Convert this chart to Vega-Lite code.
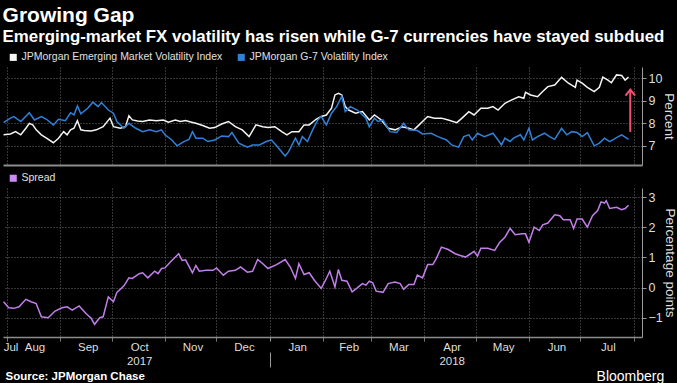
{
  "$schema": "https://vega.github.io/schema/vega-lite/v6.json",
  "background": "#000000",
  "padding": {"left": 0, "top": 5, "right": 0, "bottom": 0},
  "title": {"text": "Bloomberg", "orient": "bottom", "anchor": "end", "color": "#ffffff", "fontSize": 14, "fontWeight": "normal", "font": "Liberation Sans", "offset": -12, "dx": -12},
  "datasets": {
    "vol": [
      {"date":"2017-07-30","series":"EM","value":7.49},{"date":"2017-08-03","series":"EM","value":7.53},{"date":"2017-08-06","series":"EM","value":7.63},{"date":"2017-08-09","series":"EM","value":7.49},{"date":"2017-08-12","series":"EM","value":7.78},{"date":"2017-08-14","series":"EM","value":8.0},{"date":"2017-08-16","series":"EM","value":7.93},{"date":"2017-08-18","series":"EM","value":7.71},{"date":"2017-08-21","series":"EM","value":7.49},{"date":"2017-08-24","series":"EM","value":7.34},{"date":"2017-08-28","series":"EM","value":7.14},{"date":"2017-08-31","series":"EM","value":7.34},{"date":"2017-09-03","series":"EM","value":7.63},{"date":"2017-09-05","series":"EM","value":7.49},{"date":"2017-09-07","series":"EM","value":7.71},{"date":"2017-09-09","series":"EM","value":7.78},{"date":"2017-09-11","series":"EM","value":8.12},{"date":"2017-09-13","series":"EM","value":7.71},{"date":"2017-09-15","series":"EM","value":7.68},{"date":"2017-09-19","series":"EM","value":7.66},{"date":"2017-09-22","series":"EM","value":7.71},{"date":"2017-09-26","series":"EM","value":7.85},{"date":"2017-09-30","series":"EM","value":8.23},{"date":"2017-10-02","series":"EM","value":7.85},{"date":"2017-10-06","series":"EM","value":7.78},{"date":"2017-10-09","series":"EM","value":7.85},{"date":"2017-10-11","series":"EM","value":8.33},{"date":"2017-10-13","series":"EM","value":8.15},{"date":"2017-10-16","series":"EM","value":8.1},{"date":"2017-10-19","series":"EM","value":8.08},{"date":"2017-10-23","series":"EM","value":8.15},{"date":"2017-10-27","series":"EM","value":8.11},{"date":"2017-10-31","series":"EM","value":8.15},{"date":"2017-11-03","series":"EM","value":8.05},{"date":"2017-11-07","series":"EM","value":8.15},{"date":"2017-11-10","series":"EM","value":8.08},{"date":"2017-11-13","series":"EM","value":8.12},{"date":"2017-11-16","series":"EM","value":8.06},{"date":"2017-11-19","series":"EM","value":8.0},{"date":"2017-11-23","series":"EM","value":7.9},{"date":"2017-11-27","series":"EM","value":7.78},{"date":"2017-11-30","series":"EM","value":7.81},{"date":"2017-12-04","series":"EM","value":7.97},{"date":"2017-12-08","series":"EM","value":8.08},{"date":"2017-12-12","series":"EM","value":7.85},{"date":"2017-12-16","series":"EM","value":7.71},{"date":"2017-12-20","series":"EM","value":7.41},{"date":"2017-12-24","series":"EM","value":7.93},{"date":"2017-12-28","series":"EM","value":7.85},{"date":"2017-12-31","series":"EM","value":7.81},{"date":"2018-01-04","series":"EM","value":7.85},{"date":"2018-01-08","series":"EM","value":7.63},{"date":"2018-01-11","series":"EM","value":7.49},{"date":"2018-01-14","series":"EM","value":7.63},{"date":"2018-01-18","series":"EM","value":7.63},{"date":"2018-01-21","series":"EM","value":7.93},{"date":"2018-01-24","series":"EM","value":7.93},{"date":"2018-01-28","series":"EM","value":8.18},{"date":"2018-01-31","series":"EM","value":8.3},{"date":"2018-02-03","series":"EM","value":8.37},{"date":"2018-02-06","series":"EM","value":8.67},{"date":"2018-02-08","series":"EM","value":9.26},{"date":"2018-02-10","series":"EM","value":9.33},{"date":"2018-02-12","series":"EM","value":9.26},{"date":"2018-02-14","series":"EM","value":8.74},{"date":"2018-02-16","series":"EM","value":8.59},{"date":"2018-02-20","series":"EM","value":8.45},{"date":"2018-02-24","series":"EM","value":8.52},{"date":"2018-02-28","series":"EM","value":8.15},{"date":"2018-03-03","series":"EM","value":8.37},{"date":"2018-03-07","series":"EM","value":8.15},{"date":"2018-03-11","series":"EM","value":7.78},{"date":"2018-03-15","series":"EM","value":7.71},{"date":"2018-03-19","series":"EM","value":7.85},{"date":"2018-03-23","series":"EM","value":7.78},{"date":"2018-03-26","series":"EM","value":7.71},{"date":"2018-03-29","series":"EM","value":7.93},{"date":"2018-03-31","series":"EM","value":8.08},{"date":"2018-04-03","series":"EM","value":8.3},{"date":"2018-04-07","series":"EM","value":8.23},{"date":"2018-04-11","series":"EM","value":8.23},{"date":"2018-04-15","series":"EM","value":8.15},{"date":"2018-04-20","series":"EM","value":8.03},{"date":"2018-04-23","series":"EM","value":8.23},{"date":"2018-04-27","series":"EM","value":8.52},{"date":"2018-04-30","series":"EM","value":8.37},{"date":"2018-05-04","series":"EM","value":8.67},{"date":"2018-05-08","series":"EM","value":8.67},{"date":"2018-05-11","series":"EM","value":8.74},{"date":"2018-05-14","series":"EM","value":8.59},{"date":"2018-05-18","series":"EM","value":8.89},{"date":"2018-05-22","series":"EM","value":9.04},{"date":"2018-05-26","series":"EM","value":9.18},{"date":"2018-05-29","series":"EM","value":9.11},{"date":"2018-05-30","series":"EM","value":9.38},{"date":"2018-06-02","series":"EM","value":9.26},{"date":"2018-06-06","series":"EM","value":9.18},{"date":"2018-06-09","series":"EM","value":9.41},{"date":"2018-06-12","series":"EM","value":9.63},{"date":"2018-06-16","series":"EM","value":9.7},{"date":"2018-06-20","series":"EM","value":10.04},{"date":"2018-06-24","series":"EM","value":9.78},{"date":"2018-06-28","series":"EM","value":9.6},{"date":"2018-06-29","series":"EM","value":9.92},{"date":"2018-07-02","series":"EM","value":9.78},{"date":"2018-07-05","series":"EM","value":9.6},{"date":"2018-07-09","series":"EM","value":9.41},{"date":"2018-07-12","series":"EM","value":9.6},{"date":"2018-07-14","series":"EM","value":10.05},{"date":"2018-07-17","series":"EM","value":9.92},{"date":"2018-07-19","series":"EM","value":9.8},{"date":"2018-07-22","series":"EM","value":10.15},{"date":"2018-07-25","series":"EM","value":10.12},{"date":"2018-07-27","series":"EM","value":9.92},{"date":"2018-07-29","series":"EM","value":10.05},
      {"date":"2017-07-30","series":"G7","value":8.03},{"date":"2017-08-03","series":"G7","value":8.23},{"date":"2017-08-05","series":"G7","value":8.3},{"date":"2017-08-09","series":"G7","value":8.08},{"date":"2017-08-14","series":"G7","value":8.47},{"date":"2017-08-17","series":"G7","value":8.15},{"date":"2017-08-21","series":"G7","value":8.3},{"date":"2017-08-24","series":"G7","value":8.18},{"date":"2017-08-28","series":"G7","value":7.93},{"date":"2017-08-31","series":"G7","value":8.18},{"date":"2017-09-04","series":"G7","value":8.12},{"date":"2017-09-07","series":"G7","value":8.47},{"date":"2017-09-09","series":"G7","value":8.37},{"date":"2017-09-11","series":"G7","value":8.77},{"date":"2017-09-13","series":"G7","value":8.42},{"date":"2017-09-17","series":"G7","value":8.67},{"date":"2017-09-20","series":"G7","value":8.94},{"date":"2017-09-23","series":"G7","value":8.74},{"date":"2017-09-25","series":"G7","value":8.92},{"date":"2017-09-29","series":"G7","value":8.59},{"date":"2017-10-02","series":"G7","value":8.45},{"date":"2017-10-04","series":"G7","value":8.08},{"date":"2017-10-08","series":"G7","value":7.78},{"date":"2017-10-11","series":"G7","value":8.0},{"date":"2017-10-15","series":"G7","value":7.78},{"date":"2017-10-19","series":"G7","value":7.63},{"date":"2017-10-23","series":"G7","value":7.71},{"date":"2017-10-27","series":"G7","value":7.63},{"date":"2017-10-30","series":"G7","value":7.71},{"date":"2017-11-01","series":"G7","value":7.49},{"date":"2017-11-05","series":"G7","value":7.26},{"date":"2017-11-08","series":"G7","value":7.0},{"date":"2017-11-12","series":"G7","value":7.19},{"date":"2017-11-15","series":"G7","value":7.29},{"date":"2017-11-17","series":"G7","value":7.63},{"date":"2017-11-19","series":"G7","value":7.34},{"date":"2017-11-23","series":"G7","value":7.34},{"date":"2017-11-26","series":"G7","value":7.19},{"date":"2017-11-30","series":"G7","value":7.26},{"date":"2017-12-04","series":"G7","value":7.44},{"date":"2017-12-08","series":"G7","value":7.41},{"date":"2017-12-10","series":"G7","value":7.59},{"date":"2017-12-14","series":"G7","value":7.12},{"date":"2017-12-19","series":"G7","value":6.94},{"date":"2017-12-22","series":"G7","value":7.04},{"date":"2017-12-26","series":"G7","value":7.04},{"date":"2017-12-30","series":"G7","value":7.19},{"date":"2018-01-02","series":"G7","value":7.26},{"date":"2018-01-05","series":"G7","value":7.0},{"date":"2018-01-10","series":"G7","value":6.55},{"date":"2018-01-12","series":"G7","value":6.74},{"date":"2018-01-16","series":"G7","value":7.34},{"date":"2018-01-18","series":"G7","value":7.04},{"date":"2018-01-20","series":"G7","value":7.41},{"date":"2018-01-23","series":"G7","value":7.19},{"date":"2018-01-26","series":"G7","value":7.71},{"date":"2018-01-29","series":"G7","value":8.15},{"date":"2018-01-31","series":"G7","value":8.3},{"date":"2018-02-03","series":"G7","value":7.93},{"date":"2018-02-06","series":"G7","value":8.45},{"date":"2018-02-09","series":"G7","value":8.74},{"date":"2018-02-12","series":"G7","value":9.2},{"date":"2018-02-14","series":"G7","value":8.52},{"date":"2018-02-17","series":"G7","value":8.74},{"date":"2018-02-21","series":"G7","value":8.59},{"date":"2018-02-26","series":"G7","value":8.23},{"date":"2018-02-28","series":"G7","value":7.85},{"date":"2018-03-03","series":"G7","value":8.23},{"date":"2018-03-05","series":"G7","value":8.08},{"date":"2018-03-08","series":"G7","value":8.15},{"date":"2018-03-12","series":"G7","value":7.63},{"date":"2018-03-16","series":"G7","value":7.59},{"date":"2018-03-20","series":"G7","value":8.0},{"date":"2018-03-23","series":"G7","value":7.71},{"date":"2018-03-28","series":"G7","value":7.68},{"date":"2018-03-31","series":"G7","value":7.53},{"date":"2018-04-05","series":"G7","value":7.56},{"date":"2018-04-09","series":"G7","value":7.41},{"date":"2018-04-14","series":"G7","value":7.26},{"date":"2018-04-17","series":"G7","value":7.04},{"date":"2018-04-21","series":"G7","value":6.94},{"date":"2018-04-24","series":"G7","value":7.41},{"date":"2018-04-27","series":"G7","value":7.49},{"date":"2018-04-29","series":"G7","value":7.26},{"date":"2018-05-02","series":"G7","value":7.56},{"date":"2018-05-06","series":"G7","value":7.41},{"date":"2018-05-11","series":"G7","value":7.56},{"date":"2018-05-14","series":"G7","value":7.26},{"date":"2018-05-16","series":"G7","value":7.04},{"date":"2018-05-18","series":"G7","value":7.34},{"date":"2018-05-21","series":"G7","value":7.19},{"date":"2018-05-23","series":"G7","value":7.34},{"date":"2018-05-27","series":"G7","value":7.49},{"date":"2018-05-29","series":"G7","value":7.26},{"date":"2018-06-01","series":"G7","value":7.78},{"date":"2018-06-03","series":"G7","value":7.26},{"date":"2018-06-06","series":"G7","value":7.41},{"date":"2018-06-10","series":"G7","value":7.56},{"date":"2018-06-13","series":"G7","value":7.41},{"date":"2018-06-16","series":"G7","value":7.29},{"date":"2018-06-20","series":"G7","value":7.78},{"date":"2018-06-23","series":"G7","value":7.49},{"date":"2018-06-26","series":"G7","value":7.63},{"date":"2018-06-29","series":"G7","value":7.59},{"date":"2018-07-02","series":"G7","value":7.41},{"date":"2018-07-05","series":"G7","value":7.59},{"date":"2018-07-09","series":"G7","value":7.0},{"date":"2018-07-12","series":"G7","value":7.12},{"date":"2018-07-15","series":"G7","value":7.34},{"date":"2018-07-18","series":"G7","value":7.19},{"date":"2018-07-23","series":"G7","value":7.41},{"date":"2018-07-25","series":"G7","value":7.49},{"date":"2018-07-29","series":"G7","value":7.29}
    ],
    "spread": [
      {"date":"2017-07-30","value":-0.47},{"date":"2017-08-02","value":-0.67},{"date":"2017-08-05","value":-0.69},{"date":"2017-08-08","value":-0.64},{"date":"2017-08-12","value":-0.39},{"date":"2017-08-15","value":-0.47},{"date":"2017-08-18","value":-0.53},{"date":"2017-08-21","value":-0.97},{"date":"2017-08-25","value":-1.0},{"date":"2017-08-29","value":-0.78},{"date":"2017-09-02","value":-0.67},{"date":"2017-09-05","value":-0.64},{"date":"2017-09-08","value":-0.75},{"date":"2017-09-12","value":-0.61},{"date":"2017-09-16","value":-0.86},{"date":"2017-09-19","value":-1.02},{"date":"2017-09-21","value":-1.22},{"date":"2017-09-24","value":-1.0},{"date":"2017-09-26","value":-0.97},{"date":"2017-09-29","value":-0.31},{"date":"2017-10-02","value":-0.47},{"date":"2017-10-04","value":-0.16},{"date":"2017-10-08","value":0.05},{"date":"2017-10-11","value":0.32},{"date":"2017-10-13","value":0.3},{"date":"2017-10-17","value":0.46},{"date":"2017-10-19","value":0.49},{"date":"2017-10-22","value":0.32},{"date":"2017-10-26","value":0.54},{"date":"2017-10-28","value":0.46},{"date":"2017-10-30","value":0.63},{"date":"2017-11-01","value":0.65},{"date":"2017-11-04","value":0.84},{"date":"2017-11-09","value":1.12},{"date":"2017-11-11","value":0.9},{"date":"2017-11-13","value":0.92},{"date":"2017-11-17","value":0.49},{"date":"2017-11-19","value":0.73},{"date":"2017-11-21","value":0.54},{"date":"2017-11-25","value":0.57},{"date":"2017-11-29","value":0.57},{"date":"2017-12-01","value":0.65},{"date":"2017-12-05","value":0.41},{"date":"2017-12-08","value":0.54},{"date":"2017-12-12","value":0.57},{"date":"2017-12-15","value":0.68},{"date":"2017-12-19","value":0.51},{"date":"2017-12-22","value":0.54},{"date":"2017-12-25","value":0.93},{"date":"2017-12-28","value":0.79},{"date":"2017-12-31","value":0.63},{"date":"2018-01-05","value":0.76},{"date":"2018-01-10","value":0.93},{"date":"2018-01-13","value":0.68},{"date":"2018-01-16","value":0.3},{"date":"2018-01-18","value":0.79},{"date":"2018-01-21","value":0.43},{"date":"2018-01-24","value":0.49},{"date":"2018-01-27","value":0.24},{"date":"2018-01-31","value":-0.03},{"date":"2018-02-03","value":0.3},{"date":"2018-02-05","value":0.54},{"date":"2018-02-08","value":0.02},{"date":"2018-02-10","value":0.6},{"date":"2018-02-12","value":0.24},{"date":"2018-02-15","value":0.21},{"date":"2018-02-18","value":-0.14},{"date":"2018-02-21","value":-0.01},{"date":"2018-02-24","value":0.13},{"date":"2018-02-26","value":0.08},{"date":"2018-02-28","value":0.21},{"date":"2018-03-02","value":0.16},{"date":"2018-03-04","value":-0.12},{"date":"2018-03-08","value":-0.16},{"date":"2018-03-11","value":0.13},{"date":"2018-03-15","value":0.18},{"date":"2018-03-18","value":0.13},{"date":"2018-03-20","value":-0.06},{"date":"2018-03-23","value":0.1},{"date":"2018-03-26","value":0.1},{"date":"2018-03-28","value":0.41},{"date":"2018-03-31","value":0.32},{"date":"2018-04-03","value":0.76},{"date":"2018-04-06","value":0.76},{"date":"2018-04-08","value":0.96},{"date":"2018-04-11","value":1.34},{"date":"2018-04-15","value":1.26},{"date":"2018-04-19","value":1.12},{"date":"2018-04-22","value":1.06},{"date":"2018-04-25","value":1.01},{"date":"2018-04-28","value":1.12},{"date":"2018-04-30","value":1.2},{"date":"2018-05-02","value":1.04},{"date":"2018-05-04","value":1.3},{"date":"2018-05-08","value":1.3},{"date":"2018-05-12","value":1.23},{"date":"2018-05-15","value":1.5},{"date":"2018-05-18","value":1.67},{"date":"2018-05-21","value":1.96},{"date":"2018-05-24","value":1.75},{"date":"2018-05-28","value":1.78},{"date":"2018-05-30","value":1.78},{"date":"2018-06-01","value":1.5},{"date":"2018-06-04","value":2.0},{"date":"2018-06-07","value":1.89},{"date":"2018-06-09","value":2.08},{"date":"2018-06-12","value":2.14},{"date":"2018-06-16","value":2.41},{"date":"2018-06-19","value":2.38},{"date":"2018-06-21","value":2.25},{"date":"2018-06-25","value":2.25},{"date":"2018-06-27","value":1.96},{"date":"2018-06-29","value":2.27},{"date":"2018-07-02","value":2.27},{"date":"2018-07-05","value":2.0},{"date":"2018-07-08","value":2.38},{"date":"2018-07-11","value":2.55},{"date":"2018-07-13","value":2.84},{"date":"2018-07-15","value":2.8},{"date":"2018-07-16","value":2.88},{"date":"2018-07-18","value":2.62},{"date":"2018-07-22","value":2.66},{"date":"2018-07-25","value":2.58},{"date":"2018-07-27","value":2.62},{"date":"2018-07-29","value":2.73}
    ],
    "arrow": [{"date": "2018-07-30", "from": 7.62, "to": 9.5}]
  },
  "vconcat": [
    {
      "width": 639,
      "height": 98,
      "title": {
        "text": "Growing Gap",
        "subtitle": "Emerging-market FX volatility has risen while G-7 currencies have stayed subdued",
        "anchor": "start",
        "font": "Liberation Sans",
        "fontSize": 21,
        "fontWeight": "bold",
        "color": "#ffffff",
        "subtitleFont": "Liberation Sans",
        "subtitleFontSize": 16.85,
        "subtitleFontWeight": "bold",
        "subtitleColor": "#ffffff",
        "subtitlePadding": 3,
        "offset": 6,
        "dx": 2
      },
      "layer": [
        {
          "data": {"name": "vol"},
          "mark": {"type": "line", "strokeWidth": 1.5},
          "encoding": {
            "x": {
              "field": "date", "type": "temporal",
              "scale": {"domain": [{"year": 2017, "month": 7, "date": 29, "hours": 16}, {"year": 2018, "month": 8, "date": 5, "hours": 20}]},
              "axis": {
                "orient": "bottom", "title": null, "labels": false, "ticks": false,
                "domain": true, "domainColor": "#8c8c8c", "domainWidth": 2,
                "grid": true, "tickCount": 30,
                "values": [
                  {"year": 2017, "month": 8, "date": 1}, {"year": 2017, "month": 9, "date": 1}, {"year": 2017, "month": 10, "date": 1}, {"year": 2017, "month": 11, "date": 1}, {"year": 2017, "month": 12, "date": 1},
                  {"year": 2018, "month": 1, "date": 1}, {"year": 2018, "month": 2, "date": 1}, {"year": 2018, "month": 3, "date": 1}, {"year": 2018, "month": 4, "date": 1}, {"year": 2018, "month": 5, "date": 1}, {"year": 2018, "month": 6, "date": 1}, {"year": 2018, "month": 7, "date": 1}, {"year": 2018, "month": 8, "date": 1}
                ]
              }
            },
            "y": {
              "field": "value", "type": "quantitative",
              "scale": {"domain": [6.15, 10.5], "nice": false, "zero": false},
              "axis": {"orient": "right", "title": "Percent", "values": [7, 8, 9, 10], "format": ".0f", "tickCount": 10, "grid": true, "labelOverlap": false, "titlePadding": 0, "titleFontSize": 13.5}
            },
            "color": {
              "field": "series", "type": "nominal",
              "scale": {"domain": ["EM", "G7"], "range": ["#f4f4f4", "#2f80d8"]},
              "legend": {
                "orient": "top", "direction": "horizontal", "title": null, "offset": 4,
                "labelExpr": "datum.value === 'EM' ? 'JPMorgan Emerging Market Volatility Index' : 'JPMorgan G-7 Volatility Index'",
                "labelLimit": 400,
                "columnPadding": 8,
                "encode": {"symbols": {"update": {"fill": {"signal": "datum.value === 'EM' ? '#f4f4f4' : '#2f80d8'"}, "strokeWidth": {"value": 0}}}}
              }
            }
          }
        },
        {
          "data": {"name": "arrow"},
          "mark": {"type": "rule", "color": "#f2506e", "strokeWidth": 2},
          "encoding": {
            "x": {"field": "date", "type": "temporal"},
            "y": {"field": "from", "type": "quantitative"},
            "y2": {"field": "to"}
          }
        },
        {
          "data": {"name": "arrow"},
          "mark": {"type": "point", "shape": "M-0.8,1L0,0L0.8,1", "filled": false, "stroke": "#f2506e", "strokeWidth": 2, "size": 144, "opacity": 1},
          "encoding": {
            "x": {"field": "date", "type": "temporal"},
            "y": {"field": "to", "type": "quantitative"}
          }
        }
      ]
    },
    {
      "width": 639,
      "height": 149,
      "title": {"text": "Source: JPMorgan Chase", "orient": "bottom", "anchor": "start", "font": "Liberation Sans", "fontSize": 11.5, "fontWeight": "bold", "color": "#ffffff", "offset": 3, "dx": 5},
      "layer": [
        {
          "data": {"name": "spread"},
          "mark": {"type": "line", "strokeWidth": 1.5},
          "encoding": {
            "x": {
              "field": "date", "type": "temporal",
              "scale": {"domain": [{"year": 2017, "month": 7, "date": 29, "hours": 16}, {"year": 2018, "month": 8, "date": 5, "hours": 20}]},
              "axis": {
                "orient": "bottom", "title": null, "labels": false, "ticks": true, "tickCount": 30,
                "tickSize": {"condition": {"test": "month(datum.value) === 0", "value": 30}, "value": 4},
                "tickDash": {"condition": {"test": "month(datum.value) === 0", "value": [4, 11, 15, 0]}, "value": [1, 0]},
                "domain": true, "domainColor": "#8c8c8c", "domainWidth": 1.5,
                "grid": true,
                "values": [
                  {"year": 2017, "month": 8, "date": 1}, {"year": 2017, "month": 9, "date": 1}, {"year": 2017, "month": 10, "date": 1}, {"year": 2017, "month": 11, "date": 1}, {"year": 2017, "month": 12, "date": 1},
                  {"year": 2018, "month": 1, "date": 1}, {"year": 2018, "month": 2, "date": 1}, {"year": 2018, "month": 3, "date": 1}, {"year": 2018, "month": 4, "date": 1}, {"year": 2018, "month": 5, "date": 1}, {"year": 2018, "month": 6, "date": 1}, {"year": 2018, "month": 7, "date": 1}, {"year": 2018, "month": 8, "date": 1}
                ]
              }
            },
            "y": {
              "field": "value", "type": "quantitative",
              "scale": {"domain": [-1.64, 3.3], "nice": false, "zero": false},
              "axis": {"orient": "right", "title": "Percentage points", "values": [-1, 0, 1, 2, 3], "format": ".0f", "tickCount": 10, "grid": true, "labelOverlap": false, "titlePadding": 0, "titleFontSize": 13.5}
            },
            "color": {
              "datum": "Spread",
              "scale": {"domain": ["Spread"], "range": ["#c27fea"]},
              "legend": {
                "orient": "top", "direction": "horizontal", "title": null, "offset": 4,
                "encode": {"symbols": {"update": {"fill": {"value": "#c98cf2"}, "strokeWidth": {"value": 0}}}}
              }
            }
          }
        },
        {
          "data": {"name": "spread"},
          "mark": {"type": "line", "opacity": 0},
          "encoding": {
            "x": {
              "field": "date", "type": "temporal",
              "axis": {
                "orient": "bottom", "title": null, "ticks": false, "domain": false, "grid": false, "tickCount": 30,
                "labelFlush": 3, "labelPadding": 4, "labelLineHeight": 14,
                "labelExpr": "month(datum.value) === 9 && year(datum.value) === 2017 ? ['Oct', '2017'] : month(datum.value) === 3 && year(datum.value) === 2018 ? ['Apr', '2018'] : timeFormat(datum.value, '%b')",
                "values": [
                  {"year": 2017, "month": 7, "date": 29, "hours": 18}, {"year": 2017, "month": 8, "date": 17}, {"year": 2017, "month": 9, "date": 17}, {"year": 2017, "month": 10, "date": 17}, {"year": 2017, "month": 11, "date": 17}, {"year": 2017, "month": 12, "date": 17},
                  {"year": 2018, "month": 1, "date": 17}, {"year": 2018, "month": 2, "date": 16}, {"year": 2018, "month": 3, "date": 17}, {"year": 2018, "month": 4, "date": 17}, {"year": 2018, "month": 5, "date": 17}, {"year": 2018, "month": 6, "date": 17}, {"year": 2018, "month": 7, "date": 17}
                ]
              }
            },
            "y": {"field": "value", "type": "quantitative"}
          }
        }
      ],
      "resolve": {"axis": {"x": "independent"}}
    }
  ],
  "spacing": 8,
  "resolve": {"scale": {"color": "independent"}},
  "config": {
    "font": "Liberation Sans",
    "view": {"stroke": null},
    "axis": {
      "labelFont": "Liberation Sans",
      "titleFont": "Liberation Sans",
      "labelColor": "#dedede",
      "titleColor": "#dedede",
      "labelFontSize": 12.5,
      "titleFontSize": 13.5,
      "titleFontWeight": "normal",
      "domainColor": "#9a9a9a",
      "tickColor": "#9a9a9a",
      "tickSize": 4,
      "labelPadding": 2,
      "gridColor": "#6a6a6a",
      "gridDash": [1, 2],
      "gridWidth": 1
    },
    "axisX": {"labelFontSize": 11.5},
    "legend": {
      "labelFont": "Liberation Sans",
      "labelFontSize": 10.5,
      "labelColor": "#e0e0e0",
      "symbolType": "square",
      "symbolSize": 50,
      "symbolOffset": 5,
      "labelOffset": 3,
      "padding": 0
    }
  }
}
